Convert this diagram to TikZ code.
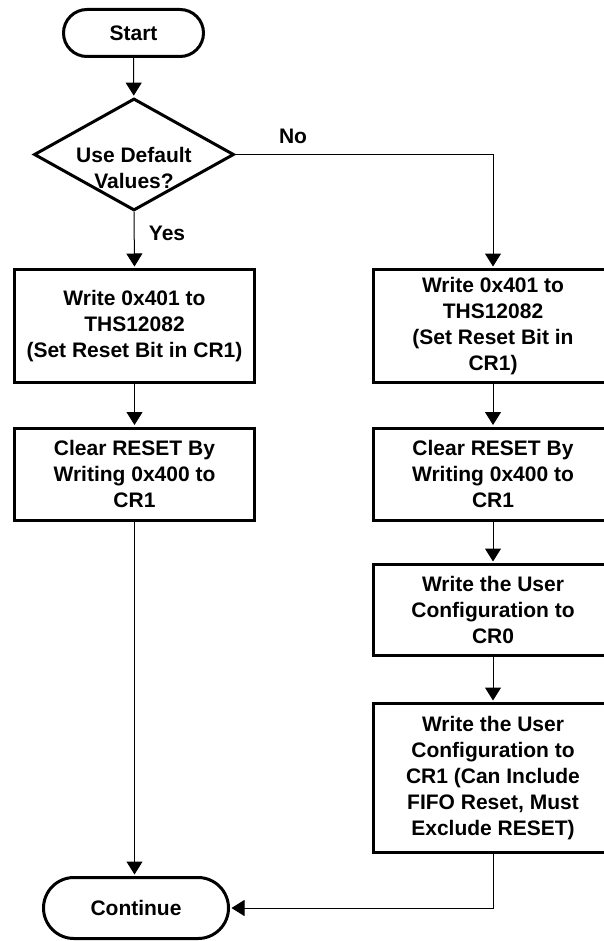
\documentclass[tikz,border=0pt]{standalone}
\usepackage{fontspec}
\setmainfont{Liberation Sans}
\usetikzlibrary{shapes.geometric,shapes.misc,arrows.meta}
\begin{document}
\begin{tikzpicture}[x=1pt,y=-1pt,
  every node/.style={font=\fontsize{21}{26}\selectfont\bfseries, align=center, inner sep=0pt},
  procbox/.style={draw, line width=3pt, rectangle, minimum width=240pt},
  term/.style={draw, line width=3pt, rounded rectangle},
  decision/.style={draw, line width=3pt, diamond, minimum width=200pt, minimum height=112pt},
  conn/.style={line width=1pt, -{Triangle[length=13pt,width=16pt]}, shorten >=1.5pt},
  lbl/.style={}]
\useasboundingbox (0,0) rectangle (603,941);
\fill[white] (0,0) rectangle (603,941);

\node[term, minimum width=140pt, minimum height=47pt] (start) at (133.5,33) {Start};
\node[decision] (dec) at (134,154.5) {};
\node (dectext) at (134,168) {Use Default\\Values?};

\node[procbox, minimum height=113pt] (lb1) at (134.5,326) {Write 0x401 to\\THS12082\\(Set Reset Bit in CR1)};
\node[procbox, minimum height=92pt] (lb2) at (134.5,474) {Clear RESET By\\Writing 0x400 to\\CR1};

\node[procbox, minimum height=113pt] (rb1) at (493,326) {Write 0x401 to\\THS12082\\(Set Reset Bit in\\CR1)};
\node[procbox, minimum height=92pt] (rb2) at (493,474) {Clear RESET By\\Writing 0x400 to\\CR1};
\node[procbox, minimum height=91pt] (rb3) at (493,610) {Write the User\\Configuration to\\CR0};
\node[procbox, minimum height=149pt] (rb4) at (493,778) {Write the User\\Configuration to\\CR1 (Can Include\\FIFO Reset, Must\\Exclude RESET)};

\node[term, minimum width=185pt, minimum height=61pt] (cont) at (136,908) {Continue};

\node[lbl] (no) at (293,136) {No};
\node[lbl] (yes) at (167,233) {Yes};

\draw[conn] (start) -- (dec);
\draw[conn] (dec.south) -- (lb1.north);
\draw[conn] (dec.east) -| (rb1.north);
\draw[conn] (lb1) -- (lb2);
\draw[conn] (lb2.south) -- (lb2.south |- cont.north);
\draw[conn] (rb1) -- (rb2);
\draw[conn] (rb2) -- (rb3);
\draw[conn] (rb3) -- (rb4);
\draw[conn] (rb4.south) |- (cont.east);
\end{tikzpicture}
\end{document}
